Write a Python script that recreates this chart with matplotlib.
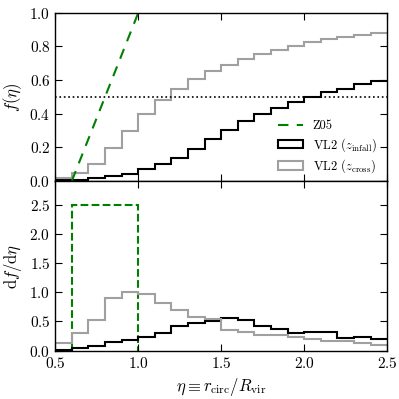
import numpy as np
import matplotlib
matplotlib.use("Agg")
import matplotlib.pyplot as plt
from matplotlib.patches import Patch
from matplotlib.lines import Line2D

plt.rcParams['font.family'] = 'serif'
plt.rcParams['font.serif'] = ['cmr10', 'DejaVu Serif']
plt.rcParams['mathtext.fontset'] = 'cm'
plt.rcParams['axes.formatter.use_mathtext'] = True

# bin edges in eta = r_circ / R_vir
edges = np.round(np.arange(0.5, 2.51, 0.1), 2)

# cumulative fractions f(eta) (top panel)
f_infall = [0.002, 0.006, 0.014, 0.026, 0.043, 0.068, 0.097, 0.133, 0.191, 0.246,
            0.302, 0.355, 0.397, 0.431, 0.467, 0.496, 0.526, 0.548, 0.574, 0.595]
f_cross = [0.014, 0.048, 0.100, 0.193, 0.296, 0.395, 0.480, 0.544, 0.604, 0.655,
           0.689, 0.722, 0.754, 0.778, 0.802, 0.824, 0.842, 0.857, 0.869, 0.881]

# differential df/deta (bottom panel)
df_infall = [0.02, 0.04, 0.08, 0.15, 0.18, 0.24, 0.31, 0.42, 0.48, 0.51,
             0.565, 0.525, 0.42, 0.38, 0.31, 0.315, 0.325, 0.22, 0.24, 0.205]
df_cross = [0.137, 0.31, 0.525, 0.90, 1.01, 0.975, 0.81, 0.70, 0.572, 0.537,
            0.354, 0.326, 0.268, 0.268, 0.229, 0.205, 0.166, 0.17, 0.137, 0.098]

# Z05: uniform distribution between 0.6 and 1.0
z05_x = [0.6, 1.0]
z05_cum = [0.0, 1.0]
z05_density = [2.5]

grey = '#a0a0a0'

fig = plt.figure(figsize=(3.99, 3.99), dpi=100)
ax1 = fig.add_axes([0.1386, 0.547, 0.832, 0.421])
ax2 = fig.add_axes([0.1386, 0.121, 0.832, 0.425])

# --- panel superior: f(eta)
ax1.plot(z05_x, z05_cum, color='g', ls='--', lw=1.5, dashes=(5, 4))
ax1.stairs(f_infall, edges, baseline=None, color='k', lw=1.5)
ax1.stairs(f_cross, edges, baseline=None, color=grey, lw=1.5)
ax1.axhline(0.5, color='k', ls=':', lw=1.2)
ax1.set_xlim(0.5, 2.5)
ax1.set_ylim(0, 1.0)
ax1.set_yticks([0.0, 0.2, 0.4, 0.6, 0.8, 1.0])
ax1.set_xticks([0.5, 1.0, 1.5, 2.0, 2.5])
ax1.set_xticklabels([])
ax1.set_ylabel(r'$f(\eta)$', fontsize=12)

handles = [Line2D([], [], color='g', ls='--', lw=1.5, dashes=(5, 4)),
           Patch(facecolor='none', edgecolor='k', lw=1.5),
           Patch(facecolor='none', edgecolor=grey, lw=1.5)]
labels = ['Z05', r'VL2 ($z_{\rm infall}$)', r'VL2 ($z_{\rm cross}$)']
ax1.legend(handles, labels, loc='lower right', bbox_to_anchor=(1.0, -0.03),
           frameon=False, fontsize=9, handlelength=2.0, handletextpad=0.8,
           borderaxespad=0.45, labelspacing=0.3)

# --- panel inferior: df/deta
ax2.stairs(z05_density, z05_x, baseline=0, color='g', ls='--', lw=1.5)
ax2.stairs(df_infall, edges, baseline=None, color='k', lw=1.5)
ax2.stairs(df_cross, edges, baseline=None, color=grey, lw=1.5)
ax2.set_xlim(0.5, 2.5)
ax2.set_ylim(0, 2.9)
ax2.set_yticks([0.0, 0.5, 1.0, 1.5, 2.0, 2.5])
ax2.set_xticks([0.5, 1.0, 1.5, 2.0, 2.5])
ax2.set_xlabel(r'$\eta \equiv r_{\rm circ}/R_{\rm vir}$', fontsize=12)
ax2.set_ylabel(r'${\rm d}f/{\rm d}\eta$', fontsize=12)

for ax in (ax1, ax2):
    ax.tick_params(direction='in', top=True, right=True, length=5, labelsize=11)
    for s in ax.spines.values():
        s.set_linewidth(1.0)

fig.savefig('out.png', dpi=100)
